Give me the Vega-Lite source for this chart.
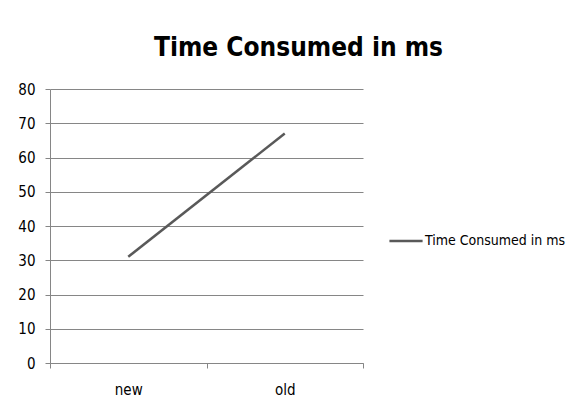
{
  "$schema": "https://vega.github.io/schema/vega-lite/v6.json",
  "width": 313,
  "height": 274,
  "autosize": {"type": "none"},
  "padding": {"left": 50, "top": 89, "right": 222, "bottom": 46},
  "background": "white",
  "title": {
    "text": "Time Consumed in ms",
    "font": "DejaVu Sans Condensed",
    "fontSize": 26,
    "fontWeight": "bold",
    "color": "#000000",
    "anchor": "middle",
    "frame": "group",
    "dx": 92,
    "baseline": "alphabetic",
    "offset": 0
  },
  "data": {
    "values": [
      {"category": "new", "value": 31, "series": "Time Consumed in ms"},
      {"category": "old", "value": 67, "series": "Time Consumed in ms"}
    ]
  },
  "mark": {"type": "line", "strokeWidth": 2.5},
  "encoding": {
    "x": {
      "field": "category",
      "type": "nominal",
      "bandPosition": 0.5,
      "scale": {"type": "band", "paddingInner": 0, "paddingOuter": 0},
      "axis": {
        "title": null,
        "labelAngle": 0,
        "tickBand": "extent",
        "grid": false,
        "domainColor": "#868686",
        "tickColor": "#868686",
        "tickSize": 5,
        "labelPadding": 14,
        "labelFont": "DejaVu Sans Condensed",
        "labelFontSize": 15,
        "labelColor": "#000000"
      }
    },
    "y": {
      "field": "value",
      "type": "quantitative",
      "scale": {"domain": [0, 80], "nice": false},
      "axis": {
        "title": null,
        "values": [0, 10, 20, 30, 40, 50, 60, 70, 80],
        "grid": true,
        "gridColor": "#868686",
        "gridWidth": 1,
        "domainColor": "#868686",
        "tickColor": "#868686",
        "tickSize": 5,
        "labelPadding": 10,
        "labelFont": "DejaVu Sans Condensed",
        "labelFontSize": 15,
        "labelColor": "#000000"
      }
    },
    "color": {
      "field": "series",
      "type": "nominal",
      "scale": {"range": ["#595959"]},
      "legend": {
        "title": null,
        "orient": "none",
        "legendX": 338,
        "legendY": 134,
        "symbolType": "stroke",
        "symbolSize": 1100,
        "symbolStrokeWidth": 2.5,
        "labelFont": "DejaVu Sans Condensed",
        "labelFontSize": 14,
        "labelColor": "#000000",
        "labelOffset": 1
      }
    }
  },
  "config": {
    "view": {"stroke": null}
  }
}
